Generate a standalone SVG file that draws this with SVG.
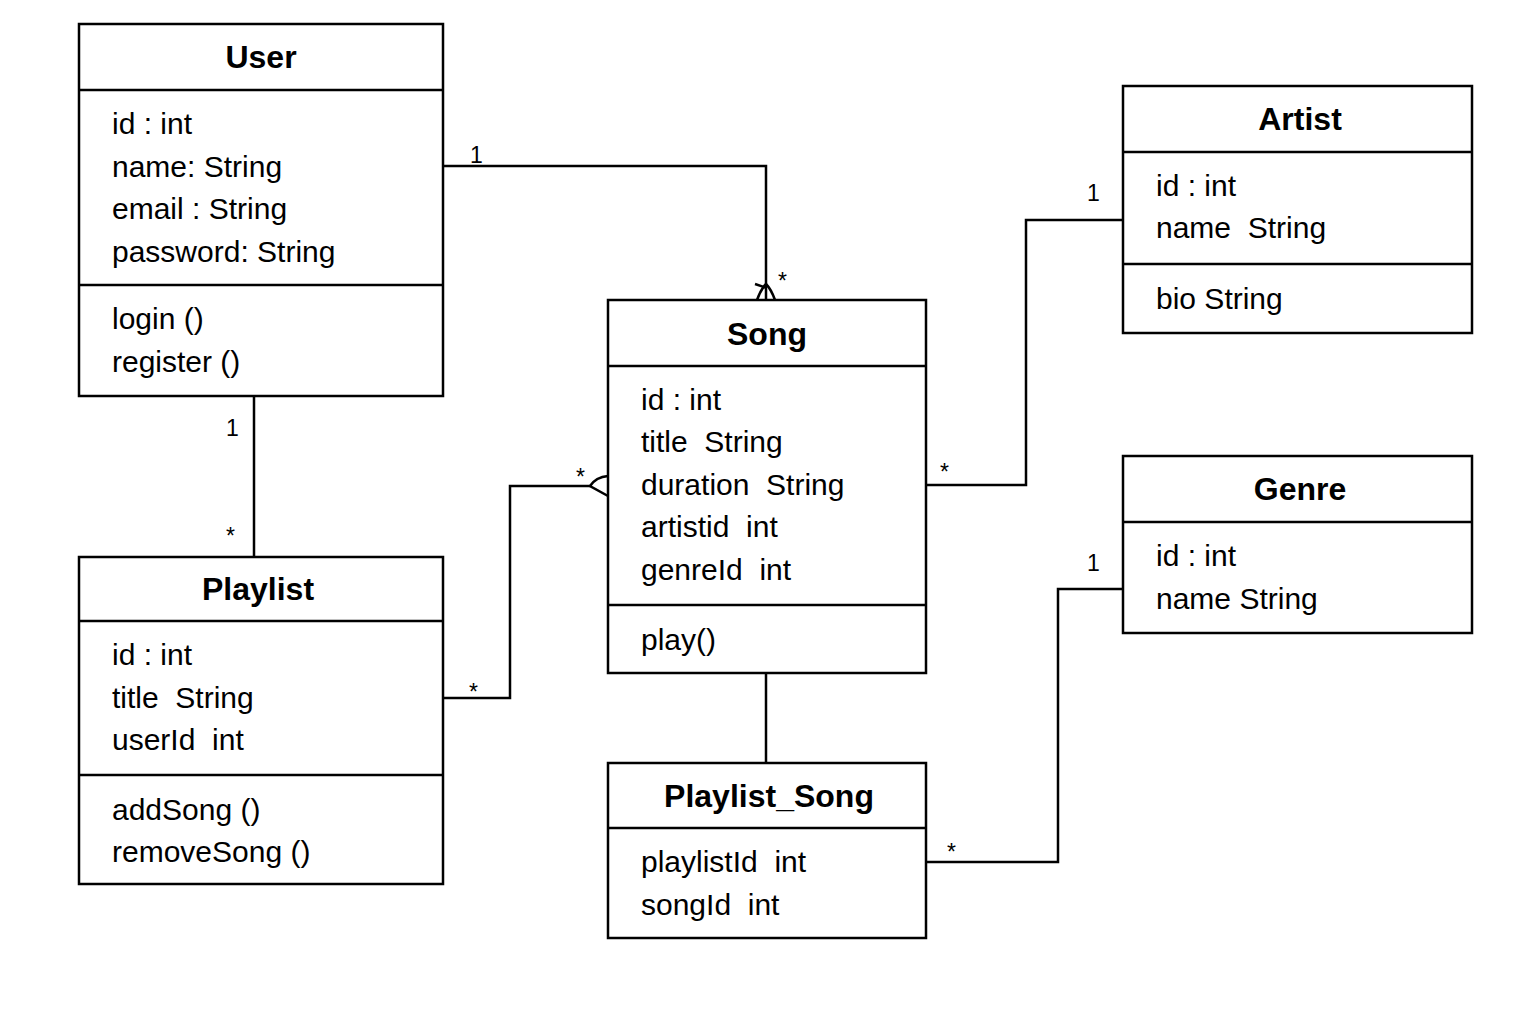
<svg xmlns="http://www.w3.org/2000/svg" width="1536" height="1024" viewBox="0 0 1536 1024">
<style>
.box{fill:#fff;stroke:#000;stroke-width:2.5}
.div{stroke:#000;stroke-width:2.5}
.t{font-family:"Liberation Sans",Arial,sans-serif;font-size:32px;font-weight:bold;text-anchor:middle;fill:#000}
.a{font-family:"Liberation Sans",Arial,sans-serif;font-size:30px;fill:#000;white-space:pre}
.m{font-family:"Liberation Sans",Arial,sans-serif;font-size:23px;fill:#000}
.c{fill:none;stroke:#000;stroke-width:2.5}
</style>
<rect width="1536" height="1024" fill="#fff"/>
<g id="connectors">
<path class="c" d="M443,166 H766 V300"/>
<path class="c" d="M757,300 Q761,289 766,284 Q771,289 775,300"/>
<path class="c" d="M755,284 L767,288"/>
<path class="c" d="M254,396 V557"/>
<path class="c" d="M443,698 H510 V486 H590"/>
<path class="c" d="M608,476 Q596,477 590,486 L608,496"/>
<path class="c" d="M926,485 H1026 V220 H1123"/>
<path class="c" d="M766,673 V763"/>
<path class="c" d="M926,862 H1058 V589 H1123"/>
<text class="m" x="470" y="163">1</text>
<text class="m" x="778" y="289">*</text>
<text class="m" x="226" y="436">1</text>
<text class="m" x="226" y="544">*</text>
<text class="m" x="469" y="700">*</text>
<text class="m" x="576" y="485">*</text>
<text class="m" x="940" y="480">*</text>
<text class="m" x="1087" y="201">1</text>
<text class="m" x="947" y="860">*</text>
<text class="m" x="1087" y="571">1</text>
</g>
<g id="User">
<rect class="box" x="79" y="24" width="364" height="372"/>
<line class="div" x1="79" y1="90" x2="443" y2="90"/>
<line class="div" x1="79" y1="285" x2="443" y2="285"/>
<text class="t" x="261" y="68">User</text>
<text class="a" x="112" y="134">id : int</text>
<text class="a" x="112" y="177">name: String</text>
<text class="a" x="112" y="219">email : String</text>
<text class="a" x="112" y="262">password: String</text>
<text class="a" x="112" y="329">login ()</text>
<text class="a" x="112" y="372">register ()</text>
</g>
<g id="Playlist">
<rect class="box" x="79" y="557" width="364" height="327"/>
<line class="div" x1="79" y1="621" x2="443" y2="621"/>
<line class="div" x1="79" y1="775" x2="443" y2="775"/>
<text class="t" x="258" y="600">Playlist</text>
<text class="a" x="112" y="665">id : int</text>
<text class="a" x="112" y="708">title  String</text>
<text class="a" x="112" y="750">userId  int</text>
<text class="a" x="112" y="820">addSong ()</text>
<text class="a" x="112" y="862">removeSong ()</text>
</g>
<g id="Song">
<rect class="box" x="608" y="300" width="318" height="373"/>
<line class="div" x1="608" y1="366" x2="926" y2="366"/>
<line class="div" x1="608" y1="605" x2="926" y2="605"/>
<text class="t" x="767" y="345">Song</text>
<text class="a" x="641" y="410">id : int</text>
<text class="a" x="641" y="452">title  String</text>
<text class="a" x="641" y="495">duration  String</text>
<text class="a" x="641" y="537">artistid  int</text>
<text class="a" x="641" y="580">genreId  int</text>
<text class="a" x="641" y="650">play()</text>
</g>
<g id="Playlist_Song">
<rect class="box" x="608" y="763" width="318" height="175"/>
<line class="div" x1="608" y1="828" x2="926" y2="828"/>
<text class="t" x="769" y="807">Playlist_Song</text>
<text class="a" x="641" y="872">playlistId  int</text>
<text class="a" x="641" y="915">songId  int</text>
</g>
<g id="Artist">
<rect class="box" x="1123" y="86" width="349" height="247"/>
<line class="div" x1="1123" y1="152" x2="1472" y2="152"/>
<line class="div" x1="1123" y1="264" x2="1472" y2="264"/>
<text class="t" x="1300" y="130">Artist</text>
<text class="a" x="1156" y="196">id : int</text>
<text class="a" x="1156" y="238">name  String</text>
<text class="a" x="1156" y="309">bio String</text>
</g>
<g id="Genre">
<rect class="box" x="1123" y="456" width="349" height="177"/>
<line class="div" x1="1123" y1="522" x2="1472" y2="522"/>
<text class="t" x="1300" y="500">Genre</text>
<text class="a" x="1156" y="566">id : int</text>
<text class="a" x="1156" y="609">name String</text>
</g>
</svg>
